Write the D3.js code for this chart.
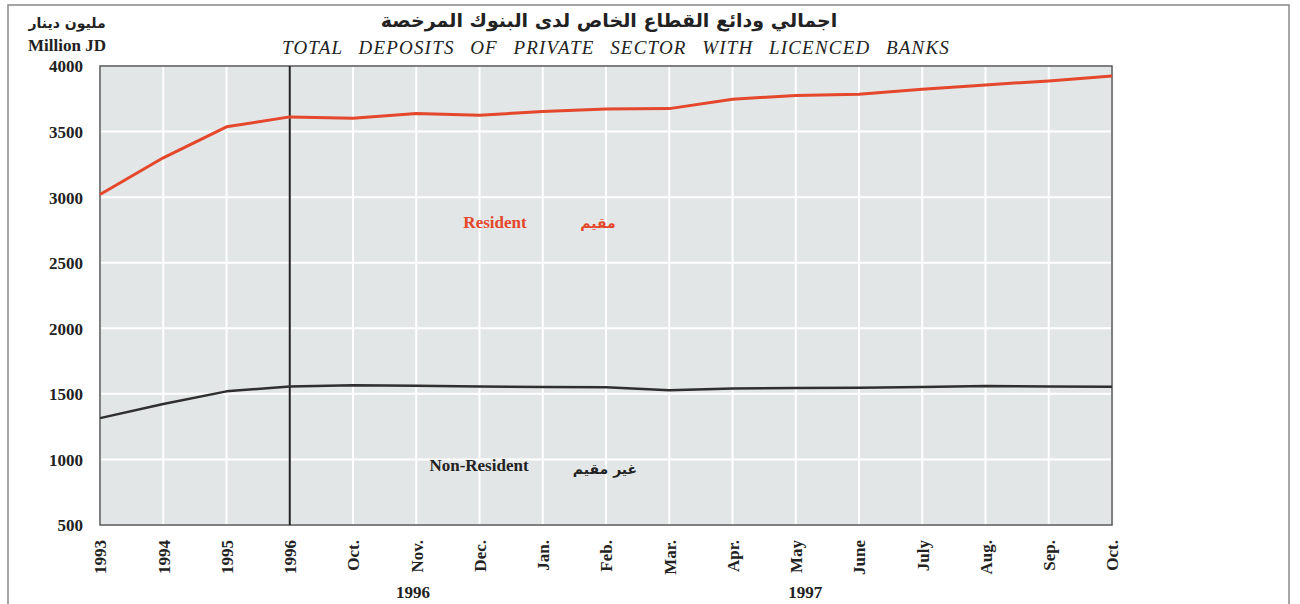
<!DOCTYPE html>
<html><head><meta charset="utf-8">
<script src="https://cdn.jsdelivr.net/npm/d3@7"></script>
<style>
html,body{margin:0;padding:0;background:#fff;}
svg{display:block;}
</style></head>
<body>
<svg id="chart" width="1300" height="604"></svg>
<script>
const categories = ["1993","1994","1995","1996","Oct.","Nov.","Dec.","Jan.","Feb.","Mar.","Apr.","May","June","July","Aug.","Sep.","Oct."];
const resident    = [3020,3300,3536,3612,3602,3637,3625,3653,3673,3675,3747,3775,3785,3823,3856,3886,3924];
const nonResident = [1315,1422,1519,1557,1565,1561,1557,1552,1550,1527,1540,1545,1547,1552,1560,1557,1555];
const yTicks = [500,1000,1500,2000,2500,3000,3500,4000];
const yearGroups = [{label:"1996", at:4.95},{label:"1997", at:11.15}];

const svg = d3.select("#chart");
const L=100, R=1112, T=66, B=525;
const x = d3.scalePoint().domain(d3.range(categories.length)).range([L,R]);
const xPos = d3.scaleLinear().domain([0,categories.length-1]).range([L,R]);
const y = d3.scaleLinear().domain([500,4000]).range([B,T]);
const serif = "'Liberation Serif','Times New Roman',serif";
const arab = "'DejaVu Sans',sans-serif";

// outer frame
svg.append("rect").attr("x",8).attr("y",5).attr("width",1281).attr("height",620)
  .attr("fill","none").attr("stroke","#888").attr("stroke-width",1.5);

// plot background
svg.append("rect").attr("x",L).attr("y",T).attr("width",R-L).attr("height",B-T).attr("fill","#e3e6e6");

// gridlines
svg.append("g").selectAll("line").data(yTicks).join("line")
  .attr("x1",L).attr("x2",R).attr("y1",d=>y(d)).attr("y2",d=>y(d))
  .attr("stroke","#fff").attr("stroke-width",2);
svg.append("g").selectAll("line").data(d3.range(categories.length)).join("line")
  .attr("y1",T).attr("y2",B).attr("x1",d=>x(d)).attr("x2",d=>x(d))
  .attr("stroke","#fff").attr("stroke-width",2);

// border
svg.append("rect").attr("x",L).attr("y",T).attr("width",R-L).attr("height",B-T)
  .attr("fill","none").attr("stroke","#555").attr("stroke-width",1.5);

// vertical separator at 1996
svg.append("line").attr("x1",x(3)).attr("x2",x(3)).attr("y1",T).attr("y2",B)
  .attr("stroke","#222").attr("stroke-width",2);

// lines
const line = d3.line().x((d,i)=>x(i)).y(d=>y(d));
svg.append("path").datum(resident).attr("d",line).attr("fill","none")
  .attr("stroke","#e4472b").attr("stroke-width",3).attr("stroke-linejoin","round");
svg.append("path").datum(nonResident).attr("d",line).attr("fill","none")
  .attr("stroke","#2f2f2f").attr("stroke-width",2.5).attr("stroke-linejoin","round");

// y axis
const ya = svg.append("g").attr("transform",`translate(${L-17},0)`)
  .call(d3.axisLeft(y).tickValues(yTicks).tickFormat(d3.format("d")).tickSize(0).tickPadding(0));
ya.select(".domain").remove();
ya.selectAll("text").attr("font-family",serif).attr("font-weight","bold").attr("font-size",17).attr("fill","#222").attr("dy","0.35em");

// x axis
const xa = svg.append("g").attr("transform",`translate(0,${B+15})`)
  .call(d3.axisBottom(x).tickFormat(i=>categories[i]).tickSize(0).tickPadding(0));
xa.select(".domain").remove();
xa.selectAll("text").attr("font-family",serif).attr("font-weight","bold").attr("font-size",17).attr("fill","#222")
  .attr("transform","rotate(-90)").attr("text-anchor","end").attr("x",0).attr("y",0).attr("dy","0.35em").attr("dx",0);

// year group labels
svg.append("g").selectAll("text").data(yearGroups).join("text")
  .attr("x",d=>xPos(d.at)).attr("y",598).attr("text-anchor","middle")
  .attr("font-family",serif).attr("font-weight","bold").attr("font-size",17).attr("fill","#222").text(d=>d.label);

// unit labels
svg.append("text").attr("x",67).attr("y",28).attr("text-anchor","middle").attr("font-family",arab)
  .attr("font-weight","bold").attr("font-size",14).attr("fill","#222").text("مليون دينار");
svg.append("text").attr("x",67).attr("y",51).attr("text-anchor","middle").attr("font-family",serif)
  .attr("font-weight","bold").attr("font-size",17).attr("fill","#222").text("Million JD");

// titles
svg.append("text").attr("x",609).attr("y",27).attr("text-anchor","middle").attr("font-family",arab)
  .attr("font-weight","bold").attr("font-size",19).attr("fill","#222").text("اجمالي ودائع القطاع الخاص لدى البنوك المرخصة");
const t2 = svg.append("text").attr("x",616).attr("y",54).attr("text-anchor","middle").attr("font-family",serif)
  .attr("font-style","italic").attr("font-size",19).attr("letter-spacing",1.2).attr("fill","#222")
  .text("TOTAL DEPOSITS OF PRIVATE SECTOR WITH LICENCED BANKS");
const natural = t2.node().getComputedTextLength();
const ws = Math.max(0, (668 - natural) / 7);
t2.attr("word-spacing", ws);

// series labels
svg.append("text").attr("x",495).attr("y",228).attr("text-anchor","middle").attr("font-family",serif)
  .attr("font-weight","bold").attr("font-size",17).attr("fill","#e4472b").text("Resident");
svg.append("text").attr("x",598).attr("y",228).attr("text-anchor","middle").attr("font-family",arab)
  .attr("font-weight","bold").attr("font-size",14).attr("fill","#e4472b").text("مقيم");
svg.append("text").attr("x",479).attr("y",471).attr("text-anchor","middle").attr("font-family",serif)
  .attr("font-weight","bold").attr("font-size",17).attr("fill","#222").text("Non-Resident");
svg.append("text").attr("x",605).attr("y",474).attr("text-anchor","middle").attr("font-family",arab)
  .attr("font-weight","bold").attr("font-size",14).attr("fill","#222").text("غير مقيم");
</script>
</body></html>
